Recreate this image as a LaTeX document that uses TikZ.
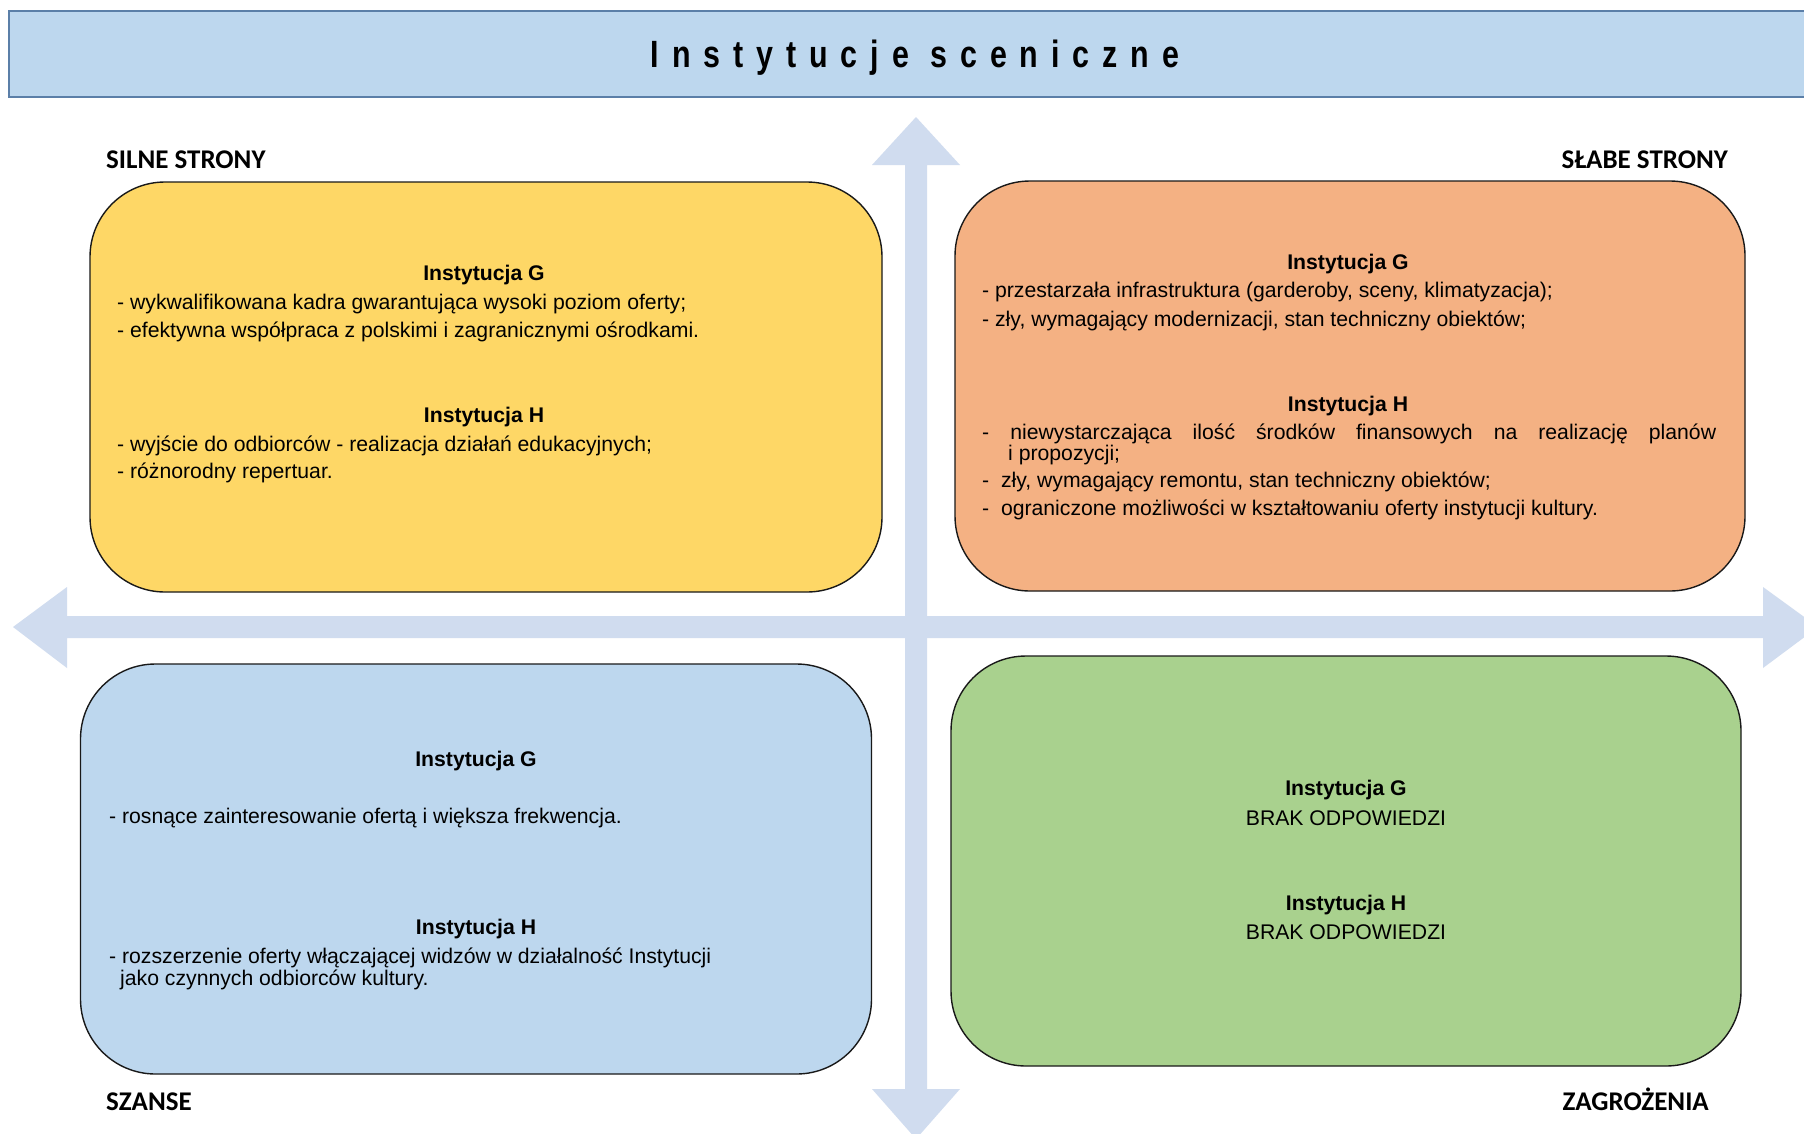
\documentclass[tikz,border=0pt]{standalone}
\usepackage{fontspec}
\setmainfont{Liberation Sans}
\newfontfamily\titlefont{Liberation Sans}[FakeStretch=0.8, LetterSpace=34]
\newfontfamily\labfont{Carlito}
\definecolor{titlefill}{HTML}{BDD7EE}
\definecolor{titleline}{HTML}{5B7FA8}
\definecolor{arrowc}{HTML}{D0DCEF}
\definecolor{yel}{HTML}{FED766}
\definecolor{ora}{HTML}{F4B183}
\definecolor{blu}{HTML}{BDD7EE}
\definecolor{gre}{HTML}{A9D18E}
\begin{document}
\begin{tikzpicture}[x=1pt,y=-1pt,
  quad/.style={draw=black!90, line width=1.4pt, rounded corners=75pt, inner sep=0, minimum height=410pt},
  txt/.style={inner sep=0, anchor=west, font=\fontsize{21.2}{25}\selectfont},
  hd/.style={inner sep=0, font=\fontsize{21.2}{25}\selectfont\bfseries},
  plain/.style={inner sep=0, font=\fontsize{21.2}{25}\selectfont},
  corner/.style={inner sep=0, font=\labfont\bfseries\fontsize{27}{31}\selectfont},
]
\useasboundingbox (0,0) rectangle (1804,1133);
\fill[white] (0,0) rectangle (1804,1133);
% title bar
\node[draw=titleline, fill=titlefill, line width=1.6pt, anchor=north west, minimum width=1830pt, minimum height=86pt, inner sep=0] (bar) at (8,10) {};
\node[inner sep=0, font=\titlefont\bfseries\fontsize{38}{40}\selectfont] (title) at (915,58) {Instytucje sceniczne};
% axes
\fill[arrowc] (905,165) -- (872,165) -- (916,117) -- (960,165) -- (927,165) -- (927,1089) -- (960,1089) -- (916,1139) -- (872,1089) -- (905,1089) -- cycle;
\fill[arrowc] (67,616) -- (67,587) -- (13,627) -- (67,668) -- (67,638) -- (1763,638) -- (1763,668) -- (1818,627) -- (1763,587) -- (1763,616) -- cycle;
% corner labels
\node[corner, anchor=base west] (silne) at (106,168) {SILNE STRONY};
\node[corner, anchor=base east] (slabe) at (1728,168) {SŁABE STRONY};
\node[corner, anchor=base west] (szanse) at (106,1110) {SZANSE};
\node[corner, anchor=base east] (zagr) at (1709,1110) {ZAGROŻENIA};
% quadrants
\node[quad, fill=yel, minimum width=792pt] (S) at (486,387) {};
\node[quad, fill=ora, minimum width=790pt] (W) at (1350,386) {};
\node[quad, fill=blu, minimum width=791pt] (O) at (476,869) {};
\node[quad, fill=gre, minimum width=790pt] (T) at (1346,861) {};
% strengths
\node[hd] (sg) at (484,275) {Instytucja G};
\node[txt] (s1) at (117,304) {- wykwalifikowana kadra gwarantująca wysoki poziom oferty;};
\node[txt] (s2) at (117,332) {- efektywna współpraca z polskimi i zagranicznymi ośrodkami.};
\node[hd] (sh) at (484,417) {Instytucja H};
\node[txt] (s3) at (117,446) {- wyjście do odbiorców - realizacja działań edukacyjnych;};
\node[txt] (s4) at (117,473) {- różnorodny repertuar.};
% weaknesses
\node[hd] (wg) at (1348,264) {Instytucja G};
\node[txt] (w1) at (982,292) {- przestarzała infrastruktura (garderoby, sceny, klimatyzacja);};
\node[txt] (w2) at (982,321) {- zły, wymagający modernizacji, stan techniczny obiektów;};
\node[hd] (wh) at (1348,406) {Instytucja H};
\node[txt] (w3) at (982,434) {\makebox[734pt][s]{- niewystarczająca ilość środków finansowych na realizację planów}};
\node[txt] (w3b) at (1008,455) {i propozycji;};
\node[txt] (w4) at (982,482) {-\ \ zły, wymagający remontu, stan techniczny obiektów;};
\node[txt] (w5) at (982,510) {-\ \ ograniczone możliwości w kształtowaniu oferty instytucji kultury.};
% opportunities
\node[hd] (og) at (476,761) {Instytucja G};
\node[txt] (o1) at (109,818) {- rosnące zainteresowanie ofertą i większa frekwencja.};
\node[hd] (oh) at (476,929) {Instytucja H};
\node[txt] (o2) at (109,958) {- rozszerzenie oferty włączającej widzów w działalność Instytucji};
\node[txt] (o2b) at (120,980) {jako czynnych odbiorców kultury.};
% threats
\node[hd] (tg) at (1346,790) {Instytucja G};
\node[plain] (t1) at (1346,818) {BRAK ODPOWIEDZI};
\node[hd] (th) at (1346,905) {Instytucja H};
\node[plain] (t2) at (1346,932) {BRAK ODPOWIEDZI};
\end{tikzpicture}
\end{document}
